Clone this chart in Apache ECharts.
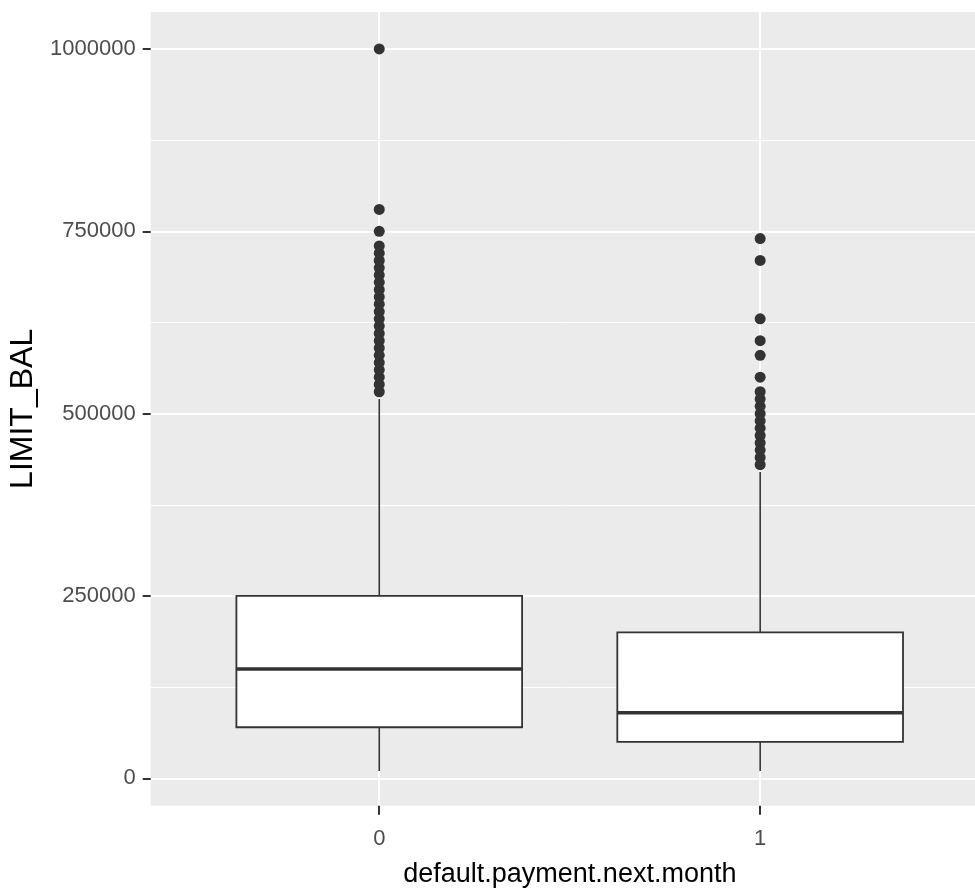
<!DOCTYPE html>
<html>
<head>
<meta charset="utf-8">
<script src="https://cdn.jsdelivr.net/npm/echarts@6/dist/echarts.min.js"></script>
<style>
  html, body { margin: 0; padding: 0; background: #fff; }
  #chart { width: 975px; height: 893px; }
</style>
</head>
<body>
<div id="chart"></div>
<script>
// groups on the x axis (0 / 1)
const categories = ['0', '1'];

// box statistics per group
const whiskerLow  = [10000, 10000];
const q1          = [70000, 50000];
const median      = [150000, 90000];
const q3          = [250000, 200000];
const whiskerHigh = [520000, 420000];

// outliers
const outliers0 = [530000, 540000, 550000, 560000, 570000, 580000, 590000, 600000,
                   610000, 620000, 630000, 640000, 650000, 660000, 670000, 680000,
                   690000, 700000, 710000, 720000, 730000, 750000, 780000, 1000000];
const outliers1 = [430000, 440000, 450000, 460000, 470000, 480000, 490000, 500000,
                   510000, 520000, 530000, 550000, 580000, 600000, 630000, 710000, 740000];

// y tick labels and minor grid lines
const yTicks = [0, 250000, 500000, 750000, 1000000];
const yMinor = [125000, 375000, 625000, 875000];

function initChart() {
	let myChart = echarts.init(document.getElementById('chart'));

	const boxData = categories.map((c, i) => [i, whiskerLow[i], q1[i], median[i], q3[i], whiskerHigh[i]]);
	const outlierData = outliers0.map(v => [0, v]).concat(outliers1.map(v => [1, v]));
	const halfBox = 0.375; // ggplot default width 0.75

	const font = "'Liberation Sans', Arial, sans-serif";

	let option = {
		animation: false,
		grid: {
			left: 150.7,
			right: 0,
			top: 12,
			bottom: 87.3,
			outerBoundsMode: 'none',
			containLabel: false,
			show: true,
			backgroundColor: '#EBEBEB',
			borderWidth: 0
		},
		xAxis: {
			type: 'value',
			min: -0.6,
			max: 1.564,
			name: 'default.payment.next.month',
			nameLocation: 'middle',
			nameGap: 55,
			nameTextStyle: { fontFamily: font, fontSize: 27, color: '#000', padding: [0, 0, 0, 14] },
			axisLine: { show: false, onZero: false },
			axisTick: {
				show: true,
				customValues: [0, 1],
				length: 9,
				lineStyle: { color: '#333', width: 2 }
			},
			axisLabel: {
				customValues: [0, 1],
				formatter: v => categories[v],
				margin: 22,
				fontFamily: font,
				fontSize: 22,
				color: '#4D4D4D'
			},
			splitLine: {
				show: true,
				lineStyle: { color: '#fff', width: 2 }
			}
		},
		yAxis: {
			type: 'value',
			min: -37600,
			max: 1050700,
			name: 'LIMIT_BAL',
			nameLocation: 'middle',
			nameRotate: 90,
			nameGap: 111,
			nameTextStyle: { fontFamily: font, fontSize: 32, color: '#000' },
			axisLine: { show: false, onZero: false },
			axisTick: {
				show: true,
				customValues: yTicks,
				length: 8,
				lineStyle: { color: '#333', width: 2 }
			},
			axisLabel: {
				customValues: yTicks,
				formatter: v => String(v),
				margin: 15,
				fontFamily: font,
				fontSize: 22,
				color: '#4D4D4D'
			},
			splitLine: {
				show: true,
				lineStyle: { color: '#fff', width: 2 }
			}
		},
		series: [
			{
				// minor grid lines
				type: 'line',
				data: [],
				z: 1,
				silent: true,
				markLine: {
					silent: true,
					z: 1,
					symbol: ['none', 'none'],
					label: { show: false },
					lineStyle: { color: '#fff', width: 1, type: 'solid' },
					data: yMinor.map(v => ({ yAxis: v }))
				}
			},
			{
				type: 'custom',
				z: 3,
				renderItem: function (params, api) {
					const x = api.value(0);
					const lo = api.coord([x, api.value(1)]);
					const b1 = api.coord([x, api.value(2)]);
					const b3 = api.coord([x, api.value(4)]);
					const hi = api.coord([x, api.value(5)]);
					const left = api.coord([x - halfBox, api.value(2)]);
					const right = api.coord([x + halfBox, api.value(4)]);
					const mL = api.coord([x - halfBox, api.value(3)]);
					const mR = api.coord([x + halfBox, api.value(3)]);
					const stroke = '#333333';
					return {
						type: 'group',
						children: [
							{ type: 'line', shape: { x1: lo[0], y1: lo[1], x2: b1[0], y2: b1[1] }, style: { stroke: stroke, lineWidth: 1.6 } },
							{ type: 'line', shape: { x1: b3[0], y1: b3[1], x2: hi[0], y2: hi[1] }, style: { stroke: stroke, lineWidth: 1.6 } },
							{ type: 'rect', shape: { x: left[0], y: right[1], width: right[0] - left[0], height: left[1] - right[1] },
								style: { fill: '#fff', stroke: stroke, lineWidth: 1.8 } },
							{ type: 'line', shape: { x1: mL[0], y1: mL[1], x2: mR[0], y2: mR[1] }, style: { stroke: stroke, lineWidth: 3.5 } }
						]
					};
				},
				encode: { x: 0, y: [1, 2, 3, 4, 5] },
				data: boxData
			},
			{
				type: 'scatter',
				z: 4,
				symbol: 'circle',
				symbolSize: 11,
				itemStyle: { color: '#333333', opacity: 1 },
				data: outlierData
			}
		]
	};

	myChart.setOption(option);
	return myChart;
}

initChart();
</script>
</body>
</html>
